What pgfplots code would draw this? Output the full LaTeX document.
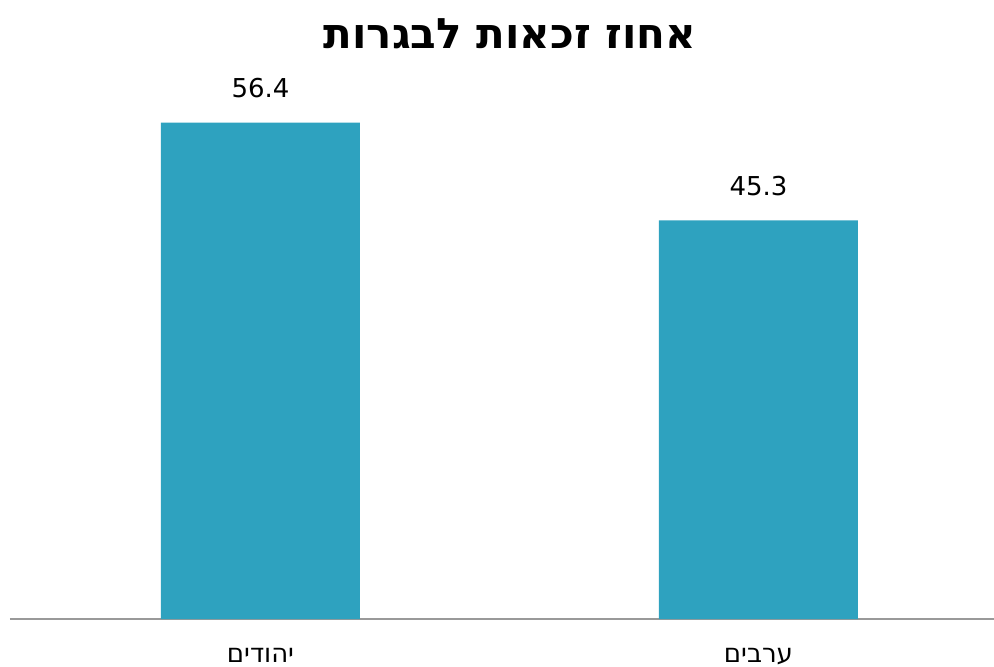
\documentclass[border=0pt]{standalone}
\usepackage{fontspec}
\setmainfont{DejaVu Sans}
\newfontfamily\hebfont[Script=Hebrew]{DejaVu Sans}
\TeXXeTstate=1
\usepackage{pgfplots}
\pgfplotsset{compat=1.18}
\definecolor{barblue}{RGB}{46,162,191}
\begin{document}
\begin{tikzpicture}
\useasboundingbox (-5pt,-23.5pt) rectangle (492pt,309.5pt);
\begin{axis}[
  scale only axis,
  width=492pt, height=286pt,
  ymin=0, ymax=65,
  xmin=-0.503, xmax=1.473,
  axis y line=none,
  axis x line=bottom,
  axis line style={draw=gray!80, line width=1pt, -},
  xtick=data,
  xticklabels={{\hebfont\beginR יהודים\endR},{\hebfont\beginR ערבים\endR}},
  major tick length=0pt,
  xticklabel style={anchor=base, yshift=-21.5pt, font=\fontsize{13pt}{15pt}\selectfont},
  ybar, bar width=99.5pt,
  /pgf/number format/assume math mode=true,
  nodes near coords,
  every node near coord/.append style={anchor=base, yshift=12.5pt, text=black, font=\fontsize{13pt}{15pt}\selectfont},
  clip=false,
]
\addplot[fill=barblue, draw=none] coordinates {(0,56.4) (1,45.3)};
\end{axis}
\node[anchor=base, font=\fontsize{21pt}{24pt}\selectfont\bfseries\hebfont] at (250pt,285.5pt) {\beginR אחוז זכאות לבגרות\endR};
\end{tikzpicture}
\end{document}
